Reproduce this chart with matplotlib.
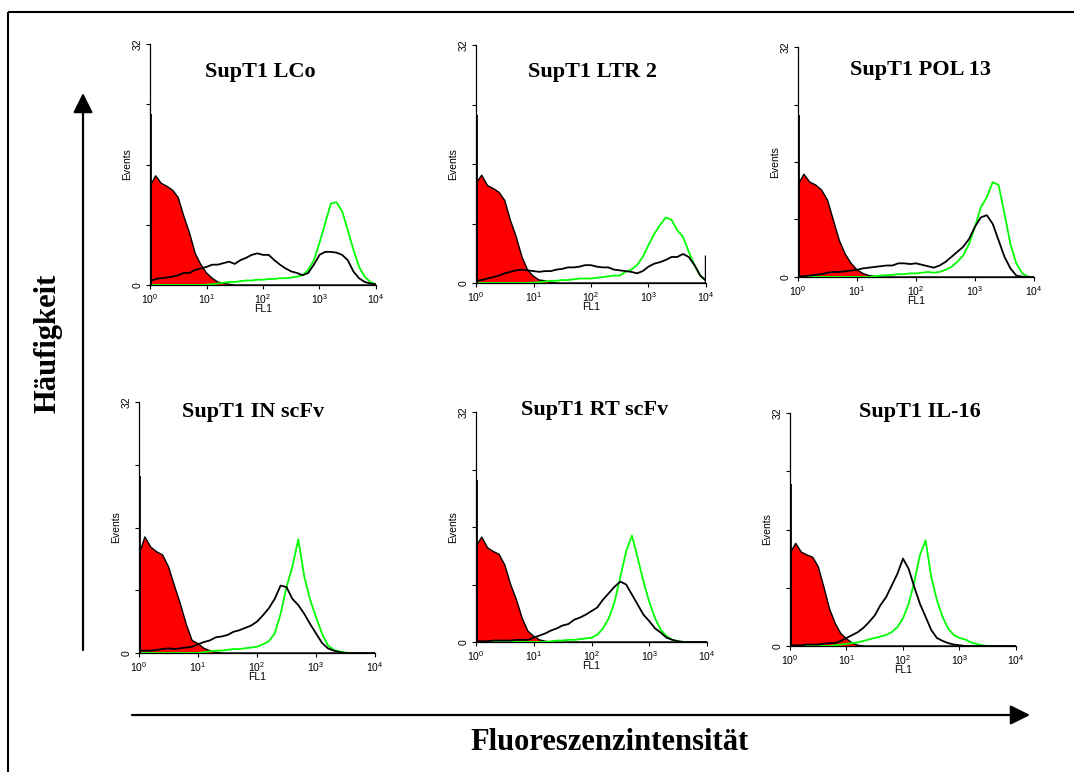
import matplotlib
matplotlib.use('Agg')
import matplotlib.pyplot as plt
from matplotlib.ticker import NullLocator
import numpy as np

plt.rcParams['font.family'] = ['Liberation Sans', 'DejaVu Sans']
plt.rcParams['mathtext.default'] = 'regular'

W, H = 1074, 772

# FL1 channel grid (log10 of fluorescence), 0.1 decade steps
FL_LOG = np.round(np.arange(0, 4.01, 0.1), 1)
N = len(FL_LOG)

TITLES = ['SupT1 LCo', 'SupT1 LTR 2', 'SupT1 POL 13',
          'SupT1 IN scFv', 'SupT1 RT scFv', 'SupT1 IL-16']

# negative control (red, filled) - only the non-zero start of each curve
RED_LCO = [13.1, 14.5, 13.5, 13.1, 12.6, 11.6, 9.1, 6.9, 4.2, 2.7, 1.6, 0.9, 0.4, 0.2, 0.1]
RED_LTR = [13.4, 14.5, 13.1, 12.7, 12.2, 11.1, 8.4, 6.2, 3.5, 1.7, 0.9, 0.4, 0.3, 0.1]
RED_POL = [12.8, 14.3, 13.2, 12.8, 12.1, 10.7, 7.9, 5.1, 3.2, 1.9, 1.0, 0.5, 0.2, 0.1]
RED_IN = [12.5, 14.8, 13.5, 12.9, 12.5, 11.0, 8.6, 6.3, 3.7, 1.6, 1.2, 0.6, 0.3, 0.1]
RED_RT = [13.3, 14.6, 13.1, 12.6, 12.2, 10.7, 8.0, 5.9, 3.3, 1.5, 0.8, 0.3, 0.1]
RED_IL = [12.7, 14.1, 12.9, 12.5, 12.2, 10.9, 8.1, 5.1, 3.1, 1.7, 1.0, 0.4, 0.1]

# black curves (full grid)
BLACK_LCO = [0.5, 0.8, 0.9, 1.0, 1.1, 1.3, 1.6, 1.6, 2.0, 2.2, 2.4, 2.7, 2.7, 2.9, 3.1, 2.8,
             3.3, 3.6, 4.0, 4.2, 4.0, 4.0, 3.3, 2.7, 2.2, 1.8, 1.6, 1.3, 1.6, 2.7, 4.0, 4.4,
             4.4, 4.3, 4.0, 3.3, 1.8, 0.9, 0.4, 0.2, 0.1]
BLACK_LTR = [0.3, 0.4, 0.6, 0.8, 1.0, 1.3, 1.5, 1.7, 1.8, 1.7, 1.6, 1.5, 1.6, 1.6, 1.8, 1.9,
             2.1, 2.1, 2.2, 2.4, 2.4, 2.2, 2.1, 2.1, 1.8, 1.7, 1.6, 1.5, 1.3, 1.6, 2.2, 2.6,
             2.8, 3.1, 3.5, 3.5, 3.9, 3.5, 2.4, 1.0, 0.3]
BLACK_POL = [0.1, 0.1, 0.2, 0.3, 0.4, 0.6, 0.7, 0.7, 0.8, 0.9, 1.0, 1.2, 1.3, 1.4, 1.5, 1.6,
             1.6, 1.9, 1.9, 1.8, 1.9, 1.7, 1.5, 1.3, 1.6, 2.1, 2.8, 3.5, 4.2, 5.3, 7.0, 8.3,
             8.6, 7.4, 5.1, 2.8, 1.2, 0.2, 0.05, 0, 0]
BLACK_IN = [0.3, 0.3, 0.3, 0.4, 0.5, 0.6, 0.5, 0.6, 0.7, 0.8, 1.1, 1.4, 1.6, 2.0, 2.1, 2.3,
            2.7, 2.9, 3.2, 3.5, 4.0, 4.8, 5.7, 6.9, 8.6, 8.4, 6.9, 6.1, 5.0, 3.7, 2.5, 1.3,
            0.6, 0.3, 0.1, 0, 0, 0, 0, 0, 0]
BLACK_RT = [0.1, 0.1, 0.1, 0.2, 0.2, 0.2, 0.2, 0.3, 0.3, 0.3, 0.6, 0.9, 1.2, 1.6, 1.9, 2.3,
            2.5, 3.1, 3.4, 3.8, 4.3, 4.8, 5.9, 6.8, 7.7, 8.4, 8.0, 6.6, 5.2, 3.8, 2.9, 1.9,
            1.3, 0.6, 0.3, 0.1, 0, 0, 0, 0, 0]
BLACK_IL = [0.1, 0.1, 0.1, 0.2, 0.2, 0.2, 0.3, 0.4, 0.4, 0.7, 1.1, 1.5, 1.9, 2.5, 3.3, 4.2,
            5.6, 6.7, 8.3, 9.9, 12.0, 10.6, 8.1, 5.8, 4.0, 2.2, 1.1, 0.7, 0.4, 0.2, 0.1, 0,
            0, 0, 0, 0, 0, 0, 0, 0, 0]

# green curves (full grid)
GREEN_LCO = [0, 0, 0, 0, 0, 0, 0, 0, 0, 0, 0.05, 0.1, 0.2, 0.3, 0.4, 0.4, 0.5, 0.6, 0.6, 0.7,
             0.7, 0.8, 0.8, 0.9, 0.9, 1.0, 1.1, 1.3, 2.0, 3.3, 5.6, 8.2, 10.8, 11.0, 9.8, 7.3,
             4.7, 2.4, 1.1, 0.4, 0.1]
GREEN_LTR = [0, 0, 0, 0, 0, 0, 0, 0, 0, 0, 0.05, 0.1, 0.2, 0.3, 0.3, 0.4, 0.4, 0.5, 0.6, 0.6,
             0.6, 0.7, 0.8, 0.9, 1.0, 1.0, 1.5, 1.8, 2.4, 3.5, 5.1, 6.6, 7.8, 8.8, 8.5, 7.1,
             6.2, 4.2, 2.4, 1.0, 0.3]
GREEN_POL = [0, 0, 0, 0, 0, 0, 0, 0, 0, 0, 0, 0, 0, 0.1, 0.2, 0.25, 0.3, 0.4, 0.4, 0.5,
             0.5, 0.6, 0.7, 0.6, 0.7, 1.0, 1.4, 2.1, 3.0, 4.6, 7.0, 9.7, 11.1, 13.2, 12.8, 8.8,
             4.6, 1.9, 0.5, 0.05, 0]
GREEN_IN = [0, 0, 0, 0, 0, 0, 0, 0, 0, 0, 0, 0.1, 0.2, 0.3, 0.3, 0.4, 0.5, 0.5, 0.6, 0.7,
            0.8, 1.1, 1.5, 2.5, 5.0, 8.4, 11.0, 14.5, 9.8, 6.8, 4.6, 2.5, 1.0, 0.4, 0.2, 0.05,
            0, 0, 0, 0, 0]
GREEN_RT = [0, 0, 0, 0, 0, 0, 0, 0, 0, 0, 0, 0, 0, 0.1, 0.2, 0.2, 0.3, 0.3, 0.4, 0.5,
            0.6, 1.0, 1.9, 3.3, 5.6, 9.1, 12.6, 14.8, 11.7, 8.4, 5.6, 3.3, 1.7, 0.8, 0.3, 0.1,
            0, 0, 0, 0, 0]
GREEN_IL = [0, 0, 0, 0, 0, 0, 0, 0, 0.1, 0.2, 0.3, 0.4, 0.5, 0.7, 0.9, 1.1, 1.3, 1.5, 1.9, 2.6,
            3.8, 5.8, 8.8, 12.5, 14.5, 9.5, 6.3, 4.0, 2.4, 1.5, 1.1, 0.9, 0.5, 0.3, 0.1, 0,
            0, 0, 0, 0, 0]

# black first-channel spike and last-channel spike per panel
SPIKE_FIRST = [22.7, 22.6, 22.5, 22.6, 22.5, 22.3]
SPIKE_LAST = [0, 3.7, 0, 0, 0, 0]

REDS = [RED_LCO, RED_LTR, RED_POL, RED_IN, RED_RT, RED_IL]
BLACKS = [BLACK_LCO, BLACK_LTR, BLACK_POL, BLACK_IN, BLACK_RT, BLACK_IL]
GREENS = [GREEN_LCO, GREEN_LTR, GREEN_POL, GREEN_IN, GREEN_RT, GREEN_IL]

# panel boxes in pixels: left, top, right, bottom ; title centre
BOXES = [(150, 44, 376, 285), (476, 45, 706, 283), (798, 47, 1034, 277),
         (139, 402, 375, 653), (476, 412, 707, 642), (790, 413, 1016, 646)]
TITLE_POS = [(260, 72), (592, 72), (920, 70), (253, 412), (595, 410), (920, 412)]


def pad(v):
    return list(v) + [0] * (N - len(v))


fig = plt.figure(figsize=(W / 100, H / 100), dpi=100)
fig.patch.set_facecolor('white')

# overlay in pixel coordinates for frame, arrows and big labels
ov = fig.add_axes([0, 0, 1, 1])
ov.set_xlim(0, W)
ov.set_ylim(H, 0)
ov.axis('off')
ov.plot([8, 8], [H, 12], color='black', lw=1.5, solid_capstyle='butt')
ov.plot([8, W], [12, 12], color='black', lw=1.5, solid_capstyle='butt')

arrow = dict(arrowstyle='-|>,head_length=1.0,head_width=0.5', lw=1.6, color='black',
             mutation_scale=12, shrinkA=0, shrinkB=0)
ov.annotate('', xy=(83, 93), xytext=(83, 650), arrowprops=arrow)
ov.annotate('', xy=(1030, 715), xytext=(132, 715), arrowprops=arrow)
ov.text(48, 343, 'Häufigkeit', rotation=90, ha='center', va='center',
        fontsize=22, fontweight='bold', family='Liberation Serif')
ov.text(610, 742, 'Fluoreszenzintensität', ha='center', va='center',
        fontsize=22, fontweight='bold', family='Liberation Serif')

x = 10 ** FL_LOG
for i in range(6):
    l, t, r, b = BOXES[i]
    ax = fig.add_axes([l / W, 1 - b / H, (r - l) / W, (b - t) / H])
    ax.set_facecolor('none')

    red = pad(REDS[i])
    ax.fill_between(x, 0, red, facecolor='#ff0000', lw=0, zorder=2)
    ax.plot(x, red, color='black', lw=1.0, zorder=3)
    ax.plot(x, GREENS[i], color='#00ff00', lw=1.3, zorder=4)
    ax.plot(x, BLACKS[i], color='black', lw=1.3, zorder=5)
    ax.vlines(10 ** 0.01, 0, SPIKE_FIRST[i], color='black', lw=1.3, zorder=5)
    if SPIKE_LAST[i] > 0:
        ax.vlines(10 ** 3.99, 0, SPIKE_LAST[i], color='black', lw=1.0, zorder=5)

    ax.set_xscale('log')
    ax.set_xlim(1, 1e4)
    ax.set_ylim(0, 32)
    ax.spines['top'].set_visible(False)
    ax.spines['right'].set_visible(False)
    ax.spines['left'].set_linewidth(0.9)
    ax.spines['bottom'].set_linewidth(0.9)

    ax.set_xticks([1, 10, 100, 1000, 10000])
    ax.set_xticklabels([r'$10^{%d}$' % k for k in range(5)])
    ax.xaxis.set_minor_locator(NullLocator())
    ax.set_yticks([0, 8, 16, 24, 32])
    ax.set_yticklabels(['0', '', '', '', '32'], rotation=90, va='center')
    ax.tick_params(direction='out', length=3, width=0.8, labelsize=7.5, pad=2)

    ax.set_xlabel('FL1', fontsize=7.5)
    ax.xaxis.set_label_coords(0.5, -19 / (b - t))
    ax.set_ylabel('Events', fontsize=7.5)
    ax.yaxis.set_label_coords(-18 / (r - l), 0.5)

    tx, ty = TITLE_POS[i]
    ov.text(tx, ty, TITLES[i], ha='center', va='center', fontsize=16,
            fontweight='bold', family='Liberation Serif')

fig.savefig('out.png', dpi=100)
